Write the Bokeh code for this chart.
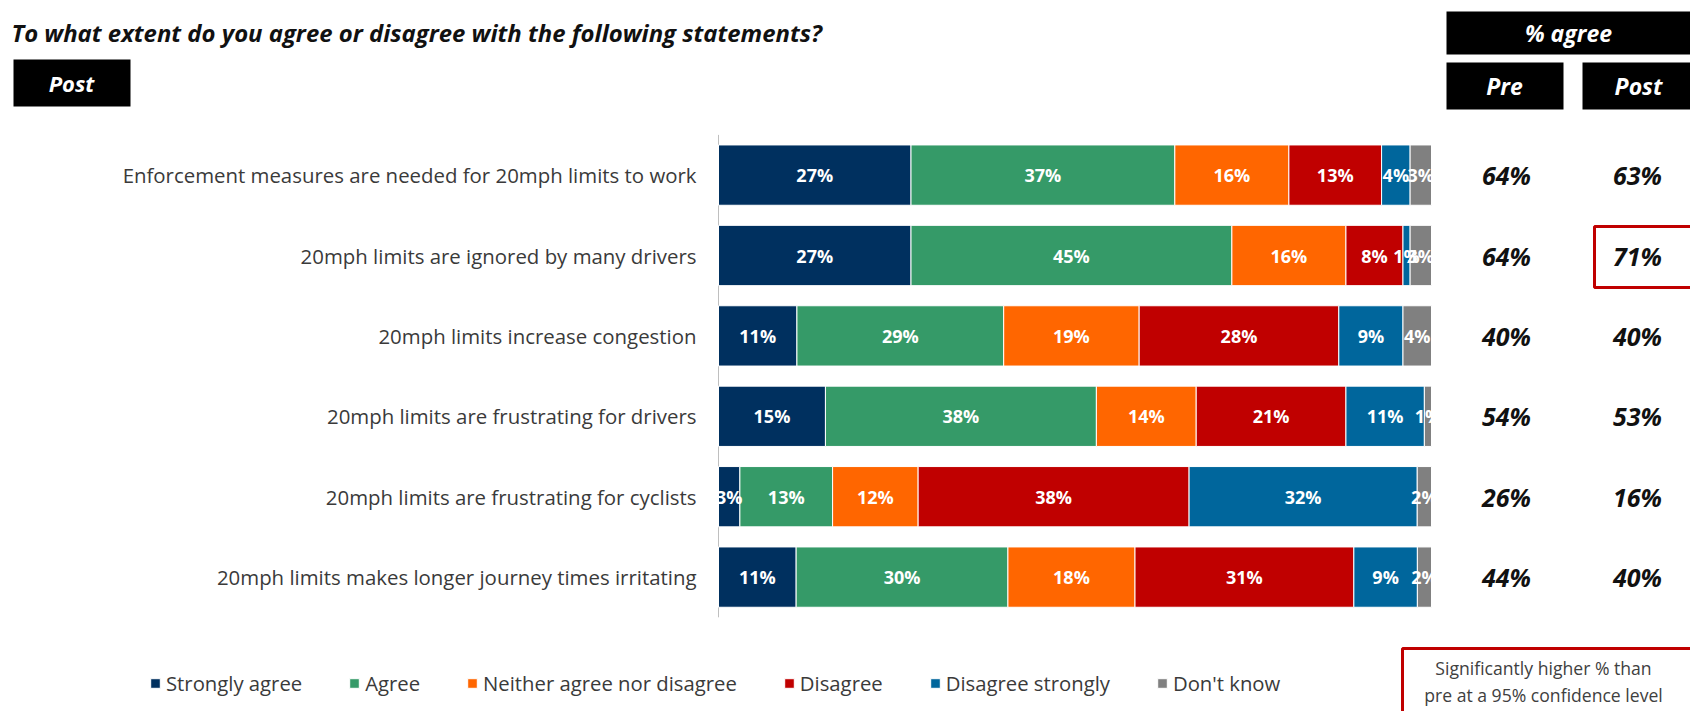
from bokeh.plotting import figure
from bokeh.models import ColumnDataSource, Range1d, Label, BoxAnnotation
from bokeh.core.properties import value
from bokeh.embed import file_html
from bokeh.resources import INLINE

# ---------------- data ----------------
categories = [
    "Enforcement measures are needed for 20mph limits to work",
    "20mph limits are ignored by many drivers",
    "20mph limits increase congestion",
    "20mph limits are frustrating for drivers",
    "20mph limits are frustrating for cyclists",
    "20mph limits makes longer journey times irritating",
]
series_names = ["Strongly agree", "Agree", "Neither agree nor disagree",
                "Disagree", "Disagree strongly", "Don't know"]
strongly_agree = [27, 27, 11, 15, 3, 11]
agree = [37, 45, 29, 38, 13, 30]
neither = [16, 16, 19, 14, 12, 18]
disagree = [13, 8, 28, 21, 38, 31]
disagree_strongly = [4, 1, 9, 11, 32, 9]
dont_know = [3, 3, 4, 1, 2, 2]
pre_agree = [64, 64, 40, 54, 26, 44]
post_agree = [63, 71, 40, 53, 16, 40]

colors = ["#00305F", "#359A68", "#FF6600", "#C00000", "#00669C", "#808080"]
FONT = "Open Sans"

series = [strongly_agree, agree, neither, disagree, disagree_strongly, dont_know]
keys = ["s0", "s1", "s2", "s3", "s4", "s5"]
rows = list(range(len(categories)))

# normalise each row to 100 (bars fill the full width)
totals = [sum(col[i] for col in series) for i in rows]
data = {"row": rows, "cat": categories,
        "pre": [f"{v}%" for v in pre_agree],
        "post": [f"{v}%" for v in post_agree]}
for k, col in zip(keys, series):
    data[k] = [v / t * 100 for v, t in zip(col, totals)]
source = ColumnDataSource(data)

# segment labels
lx, ly, lt = [], [], []
for i in rows:
    left = 0.0
    for k, col in zip(keys, series):
        w = data[k][i]
        lx.append(left + w / 2)
        ly.append(i)
        lt.append(f"{col[i]}%")
        left += w
lab_src = ColumnDataSource(dict(x=lx, y=ly, t=lt))

# ---------------- layout (page pixels -> data units) ----------------
W, H = 1690, 711
BAR_L, BAR_R = 718, 1431          # pixel extent of the 0..100 scale
ROW0, PITCH = 174.6, 80.4         # pixel centre of first row, row pitch
PXX = (BAR_R - BAR_L) / 100.0


def dx(px):
    return (px - BAR_L) / PXX


def dy(py):
    return (py - ROW0) / PITCH


p = figure(width=W, height=H,
           x_range=Range1d(dx(0), dx(W)),
           y_range=Range1d(dy(H), dy(0)),
           x_axis_location=None, y_axis_location=None,
           output_backend="svg", toolbar_location=None, min_border=0)
p.outline_line_color = None
p.xgrid.grid_line_color = None
p.ygrid.grid_line_color = None

# axis line at the left of the bars
p.segment(x0=[0], x1=[0], y0=[-0.5], y1=[len(categories) - 0.5],
          line_color="#BFBFBF", line_width=1)

p.hbar_stack(stackers=keys, y="row", height=0.75, color=colors, source=source,
             line_color="white", line_width=1, legend_label=series_names)

p.text(x="x", y="y", text="t", source=lab_src, text_color="white",
       text_font=value(FONT), text_font_style="bold", text_font_size="18px",
       text_align="center", text_baseline="middle")

# category labels
p.text(x=dx(696), y="row", text="cat", source=source, text_color="#3a3a3a",
       text_font=value(FONT), text_font_size="20.4px",
       text_align="right", text_baseline="middle")

# pre / post % agree columns
for px, col in [(1506, "pre"), (1637, "post")]:
    p.text(x=dx(px), y="row", text=col, source=source, text_color="#111111",
           text_font=value(FONT), text_font_style="bold italic",
           text_font_size="25px", text_align="center", text_baseline="middle")

# legend
leg = p.legend[0]
leg.location = (149, H - 697)
leg.orientation = "horizontal"
leg.spacing = 46
leg.glyph_width = 12
leg.glyph_height = 12
leg.label_standoff = 5
leg.padding = 0
leg.margin = 0
leg.border_line_color = None
leg.background_fill_alpha = 0
leg.label_text_font = FONT
leg.label_text_font_size = "20.3px"
leg.label_text_color = "#3a3a3a"


def box(l, r, t, b, fill=None, line=None, lw=1):
    p.add_layout(BoxAnnotation(left=l, right=r, top=H - t, bottom=H - b,
                               left_units="screen", right_units="screen",
                               top_units="screen", bottom_units="screen",
                               fill_color=fill if fill else "white",
                               fill_alpha=1 if fill else 0,
                               line_color=line if line else "black",
                               line_width=lw, line_alpha=1 if line else 0))


def label(px, py, text, size, color, style="normal", align="left"):
    p.add_layout(Label(x=px, y=H - py, x_units="screen", y_units="screen",
                       text=text, text_font=FONT, text_font_size=size,
                       text_color=color, text_font_style=style,
                       text_align=align, text_baseline="middle"))


# title and header boxes
label(11, 32, "To what extent do you agree or disagree with the following statements?",
      "23.9px", "#111111", "bold italic")
box(13, 130, 59, 106, fill="black")
label(71, 82, "Post", "22px", "white", "bold italic", "center")
box(1446, 1700, 11, 54, fill="black")
label(1568, 32, "% agree", "23px", "white", "bold italic", "center")
box(1446, 1563, 62, 109, fill="black")
label(1504, 85, "Pre", "23px", "white", "bold italic", "center")
box(1582, 1700, 62, 109, fill="black")
label(1638, 85, "Post", "23px", "white", "bold italic", "center")

# significance highlight
box(1594, 1700, 226, 287, line="#C00000", lw=3)
box(1402, 1700, 648, 720, line="#C00000", lw=3)
label(1543, 667, "Significantly higher % than", "17.6px", "#404040", "normal", "center")
label(1543, 694, "pre at a 95% confidence level", "17.6px", "#404040", "normal", "center")

open("out.html", "w").write(file_html(p, INLINE))
